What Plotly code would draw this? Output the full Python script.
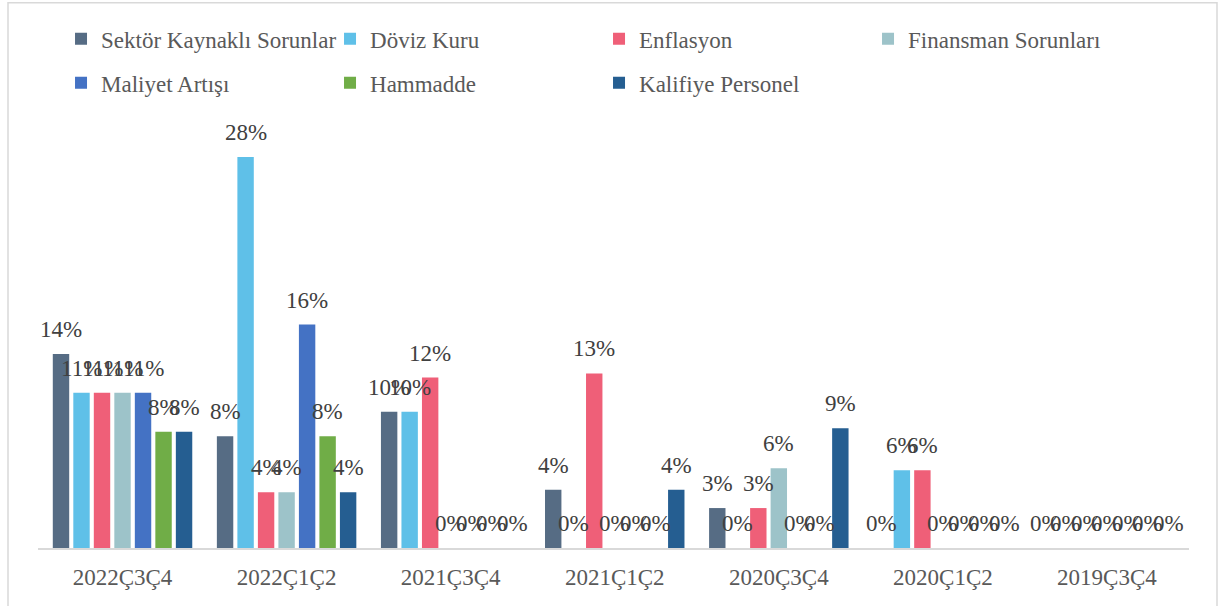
import math
import plotly.graph_objects as go

categories = ["2022Ç3Ç4", "2022Ç1Ç2", "2021Ç3Ç4", "2021Ç1Ç2", "2020Ç3Ç4", "2020Ç1Ç2", "2019Ç3Ç4"]

sektor = [13.89, 8.0, 9.76, 4.17, 2.86, 0, 0]
doviz = [11.11, 28.0, 9.76, 0, 0, 5.56, 0]
enflasyon = [11.11, 4.0, 12.2, 12.5, 2.86, 5.56, 0]
finansman = [11.11, 4.0, 0, 0, 5.71, 0, 0]
maliyet = [11.11, 16.0, 0, 0, 0, 0, 0]
hammadde = [8.33, 8.0, 0, 0, 0, 0, 0]
kalifiye = [8.33, 4.0, 0, 4.17, 8.57, 0, 0]

series_names = ["Sektör Kaynaklı Sorunlar", "Döviz Kuru", "Enflasyon", "Finansman Sorunları",
                "Maliyet Artışı", "Hammadde", "Kalifiye Personel"]
series_values = [sektor, doviz, enflasyon, finansman, maliyet, hammadde, kalifiye]
series_colors = ["#566c84", "#5fc0e8", "#ef5f78", "#9dc3c9", "#4472c4", "#70ad47", "#255e91"]
series_legend = ["legend", "legend", "legend", "legend", "legend2", "legend2", "legend2"]

FONT = "Liberation Serif, Times New Roman, serif"
FS = 23
BARGAP = 0.125
n = len(series_names)

fig = go.Figure()
for name, vals, col, lg in zip(series_names, series_values, series_colors, series_legend):
    fig.add_trace(go.Bar(x=categories, y=vals, name=name, marker_color=col,
                         marker_line_width=0, legend=lg, hoverinfo="skip"))

def pct(v):
    return f"{int(math.floor(v + 0.5))}%"

annotations = []
for i, vals in enumerate(series_values):
    for j, v in enumerate(vals):
        xpos = j - 0.5 * (1 - BARGAP) + (i + 0.5) * (1 - BARGAP) / n
        annotations.append(dict(x=xpos, y=v, xref="x", yref="y", text=pct(v),
                                showarrow=False, yanchor="bottom", xanchor="center",
                                yshift=10, font=dict(family=FONT, size=FS, color="#404040")))

fig.update_layout(
    width=1219, height=606,
    margin=dict(l=38, r=30, t=129, b=58),
    paper_bgcolor="white", plot_bgcolor="white",
    barmode="group", bargap=BARGAP, bargroupgap=0.2,
    font=dict(family=FONT, color="#595959"),
    annotations=annotations,
    showlegend=True,
    legend=dict(orientation="h", x=0.02, xanchor="left", y=1.215, yanchor="middle",
                entrywidth=224, font=dict(family=FONT, size=FS, color="#595959"),
                bgcolor="rgba(0,0,0,0)"),
    legend2=dict(orientation="h", x=0.02, xanchor="left", y=1.11, yanchor="middle",
                 entrywidth=224, font=dict(family=FONT, size=FS, color="#595959"),
                 bgcolor="rgba(0,0,0,0)"),
    xaxis=dict(showline=True, linecolor="#d9d9d9", linewidth=2, ticks="",
               showgrid=False, tickfont=dict(family=FONT, size=FS, color="#595959"),
               ticklabelstandoff=7, fixedrange=True),
    yaxis=dict(range=[0, 30], visible=False, showgrid=False, zeroline=False, fixedrange=True),
    shapes=[dict(type="rect", xref="paper", yref="paper",
                 x0=(8 - 38) / 1151, x1=(1217 - 38) / 1151,
                 y0=-0.3, y1=(548 - 2.7) / 419,
                 line=dict(color="#d9d9d9", width=1.5), fillcolor="rgba(0,0,0,0)", layer="below")],
)

fig.write_html("out.html", post_script="document.body.style.margin='0';",
               config={"displayModeBar": False})
